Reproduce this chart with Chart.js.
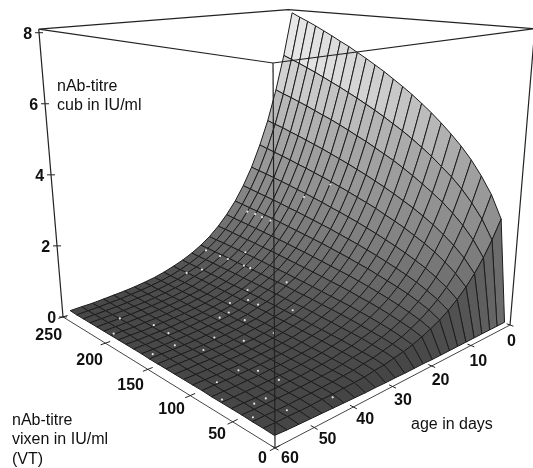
<!DOCTYPE html>
<html>
<head>
<meta charset="utf-8">
<title>nAb-titre surface</title>
<script src="https://cdn.jsdelivr.net/npm/chart.js@4/dist/chart.umd.min.js"></script>
<style>
  html, body { margin: 0; padding: 0; background: #fff; }
  canvas { display: block; }
</style>
</head>
<body>
<canvas id="chart" width="533" height="468"></canvas>
<script>
'use strict';

// grid lines of the surface
var vtLines = [5, 15, 25, 35, 45, 55, 65, 75, 85, 95, 105, 115, 125, 135, 145, 155, 165, 175, 185, 195, 205, 215, 225, 235, 245];
var ageLines = [0, 2.5, 4.9, 7.4, 9.8, 12.3, 14.8, 17.2, 19.7, 22.1, 24.6, 27, 29.5, 32, 34.4, 36.9, 39.3, 41.8, 44.3, 46.7, 49.2, 51.6, 54.1, 56.5, 59];

// cub titre, one row per age line, one column per vt line
var titre = [
  [0.02, 2.78, 3.38, 3.83, 4.22, 4.55, 4.84, 5.11, 5.36, 5.59, 5.81, 6.01, 6.20, 6.39, 6.56, 6.73, 6.89, 7.05, 7.19, 7.34, 7.48, 7.62, 7.75, 7.87, 8.00],
  [0.02, 2.28, 2.77, 3.14, 3.46, 3.73, 3.96, 4.19, 4.39, 4.58, 4.76, 4.92, 5.08, 5.23, 5.37, 5.51, 5.64, 5.77, 5.89, 6.01, 6.13, 6.24, 6.35, 6.45, 6.55],
  [0.02, 1.88, 2.28, 2.59, 2.85, 3.08, 3.27, 3.45, 3.62, 3.78, 3.93, 4.06, 4.19, 4.32, 4.43, 4.55, 4.66, 4.77, 4.86, 4.96, 5.06, 5.15, 5.24, 5.32, 5.41],
  [0.02, 1.54, 1.87, 2.12, 2.33, 2.52, 2.68, 2.83, 2.96, 3.09, 3.21, 3.32, 3.43, 3.53, 3.63, 3.72, 3.81, 3.90, 3.98, 4.06, 4.14, 4.21, 4.29, 4.35, 4.42],
  [0.02, 1.27, 1.54, 1.75, 1.93, 2.08, 2.21, 2.34, 2.45, 2.55, 2.66, 2.75, 2.83, 2.92, 3.00, 3.08, 3.15, 3.22, 3.29, 3.35, 3.42, 3.48, 3.54, 3.60, 3.66],
  [0.02, 1.04, 1.26, 1.43, 1.58, 1.70, 1.81, 1.91, 2.00, 2.09, 2.17, 2.25, 2.32, 2.39, 2.45, 2.52, 2.58, 2.64, 2.69, 2.75, 2.80, 2.85, 2.90, 2.94, 2.99],
  [0.02, 0.85, 1.03, 1.17, 1.29, 1.39, 1.48, 1.56, 1.64, 1.71, 1.78, 1.84, 1.90, 1.96, 2.01, 2.06, 2.11, 2.16, 2.20, 2.25, 2.29, 2.33, 2.37, 2.41, 2.45],
  [0.02, 0.70, 0.86, 0.97, 1.07, 1.15, 1.22, 1.29, 1.36, 1.41, 1.47, 1.52, 1.57, 1.62, 1.66, 1.70, 1.74, 1.78, 1.82, 1.86, 1.89, 1.93, 1.96, 1.99, 2.02],
  [0.02, 0.58, 0.70, 0.79, 0.87, 0.94, 1.00, 1.06, 1.11, 1.16, 1.20, 1.24, 1.28, 1.32, 1.36, 1.39, 1.43, 1.46, 1.49, 1.52, 1.55, 1.58, 1.60, 1.63, 1.66],
  [0.02, 0.48, 0.58, 0.65, 0.72, 0.78, 0.83, 0.87, 0.92, 0.96, 0.99, 1.03, 1.06, 1.09, 1.12, 1.15, 1.18, 1.21, 1.23, 1.26, 1.28, 1.30, 1.33, 1.35, 1.37],
  [0.03, 0.39, 0.47, 0.54, 0.59, 0.64, 0.68, 0.72, 0.75, 0.78, 0.81, 0.84, 0.87, 0.89, 0.92, 0.94, 0.96, 0.99, 1.01, 1.03, 1.05, 1.07, 1.09, 1.10, 1.12],
  [0.03, 0.33, 0.40, 0.45, 0.49, 0.53, 0.57, 0.60, 0.63, 0.65, 0.68, 0.70, 0.72, 0.75, 0.76, 0.78, 0.80, 0.82, 0.84, 0.85, 0.87, 0.89, 0.90, 0.92, 0.93],
  [0.03, 0.28, 0.34, 0.38, 0.42, 0.45, 0.47, 0.50, 0.52, 0.55, 0.57, 0.58, 0.60, 0.62, 0.64, 0.65, 0.67, 0.68, 0.70, 0.71, 0.72, 0.74, 0.75, 0.76, 0.77],
  [0.04, 0.23, 0.28, 0.31, 0.34, 0.37, 0.39, 0.41, 0.43, 0.45, 0.47, 0.48, 0.50, 0.51, 0.53, 0.54, 0.55, 0.56, 0.57, 0.59, 0.60, 0.61, 0.62, 0.63, 0.64],
  [0.04, 0.21, 0.25, 0.28, 0.30, 0.32, 0.34, 0.36, 0.37, 0.39, 0.40, 0.41, 0.43, 0.44, 0.45, 0.46, 0.47, 0.48, 0.49, 0.50, 0.51, 0.52, 0.53, 0.53, 0.54],
  [0.05, 0.17, 0.21, 0.23, 0.25, 0.27, 0.28, 0.30, 0.31, 0.32, 0.33, 0.34, 0.35, 0.36, 0.37, 0.38, 0.39, 0.40, 0.40, 0.41, 0.42, 0.43, 0.43, 0.44, 0.45],
  [0.05, 0.16, 0.19, 0.20, 0.22, 0.24, 0.25, 0.26, 0.27, 0.28, 0.29, 0.30, 0.31, 0.31, 0.32, 0.33, 0.34, 0.34, 0.35, 0.36, 0.36, 0.37, 0.37, 0.38, 0.38],
  [0.06, 0.15, 0.17, 0.18, 0.20, 0.21, 0.22, 0.23, 0.24, 0.25, 0.25, 0.26, 0.27, 0.27, 0.28, 0.29, 0.29, 0.30, 0.30, 0.31, 0.31, 0.32, 0.32, 0.33, 0.33],
  [0.07, 0.14, 0.16, 0.17, 0.18, 0.19, 0.20, 0.21, 0.22, 0.22, 0.23, 0.23, 0.24, 0.25, 0.25, 0.26, 0.26, 0.26, 0.27, 0.27, 0.28, 0.28, 0.28, 0.29, 0.29],
  [0.08, 0.14, 0.15, 0.16, 0.17, 0.18, 0.19, 0.19, 0.20, 0.20, 0.21, 0.21, 0.22, 0.22, 0.23, 0.23, 0.24, 0.24, 0.24, 0.25, 0.25, 0.25, 0.26, 0.26, 0.26],
  [0.09, 0.13, 0.15, 0.15, 0.16, 0.17, 0.17, 0.18, 0.18, 0.19, 0.19, 0.20, 0.20, 0.20, 0.21, 0.21, 0.21, 0.22, 0.22, 0.22, 0.23, 0.23, 0.23, 0.23, 0.24],
  [0.10, 0.13, 0.14, 0.15, 0.16, 0.16, 0.17, 0.17, 0.18, 0.18, 0.18, 0.19, 0.19, 0.19, 0.20, 0.20, 0.20, 0.20, 0.21, 0.21, 0.21, 0.21, 0.21, 0.22, 0.22],
  [0.11, 0.14, 0.14, 0.15, 0.15, 0.16, 0.16, 0.17, 0.17, 0.17, 0.18, 0.18, 0.18, 0.18, 0.19, 0.19, 0.19, 0.19, 0.19, 0.20, 0.20, 0.20, 0.20, 0.20, 0.20],
  [0.12, 0.14, 0.15, 0.15, 0.16, 0.16, 0.16, 0.17, 0.17, 0.17, 0.17, 0.18, 0.18, 0.18, 0.18, 0.18, 0.18, 0.19, 0.19, 0.19, 0.19, 0.19, 0.19, 0.19, 0.20],
  [0.14, 0.15, 0.15, 0.16, 0.16, 0.16, 0.16, 0.17, 0.17, 0.17, 0.17, 0.17, 0.17, 0.17, 0.18, 0.18, 0.18, 0.18, 0.18, 0.18, 0.18, 0.18, 0.18, 0.18, 0.19]
];

// the measured animals, the white specks on the surface
var sampleVt = [222, 212, 208, 196, 155, 178, 227, 214, 204, 194, 183, 175, 212, 221, 158, 148, 156, 136, 148, 148, 129, 205, 177, 188, 158, 129, 110, 100, 141, 121, 143, 82, 71, 80, 61, 42, 43, 32, 143, 110, 50, 10, 23];
var sampleAge = [18.5, 18.4, 17.3, 17.5, 10, 12, 29, 27.8, 27.7, 25, 27.7, 27.7, 33, 35.3, 32, 34, 36.9, 34, 38.8, 41, 38.8, 54, 51, 58, 51, 46, 43, 38, 52.6, 50, 57, 50, 48, 55, 57.7, 52.6, 54.8, 57.4, 25, 31, 48, 45.6, 52.4];
var sampleTitre = [1.9, 1.9, 1.8, 1.8, 3, 2.5, 1, 0.9, 0.9, 1.1, 0.9, 0.9, 0.7, 0.6, 0.6, 0.5, 0.45, 0.5, 0.35, 0.3, 0.35, 0.2, 0.2, 0.15, 0.2, 0.2, 0.2, 0.3, 0.15, 0.15, 0.1, 0.12, 0.15, 0.1, 0.08, 0.1, 0.08, 0.06, 0.7, 0.5, 0.2, 0.2, 0.08];

// axes
var titreTicks = [0, 2, 4, 6, 8];
var vtTicks = [0, 50, 100, 150, 200, 250];
var ageTicks = [0, 10, 20, 30, 40, 50, 60];
var titreTop = 8.1;

// grey of a cell against its height
var shadeTitre = [0, 0.5, 1, 2, 3, 4, 5, 6, 7, 8];
var shadeGrey = [66, 82, 100, 128, 148, 165, 188, 210, 228, 240];

// box perspective, worked out from the eight corners in the picture
function project(vt, age, z) {
  var u = vt / 250;
  var v = 1 - age / 60;
  var t = z / titreTop;
  var w = 1.108 * t / (1 + 0.108 * t);
  var d = 1 + 0.3533 * u + 0.3146 * v - 0.13194 * w;
  return {
    x: (275 - 189.7 * u + 395.5 * v - 38 * w) / d,
    y: (448 - 19.08 * u - 20.76 * v - 393.3 * w) / d
  };
}

// the ticks on the floor edges sit evenly on the page, not foreshortened like the mesh
function vtTickPlace(vt) {
  var t = vt / 250;
  return 250 * 0.739 * t / (1 - 0.261 * t);
}
function ageTickPlace(age) {
  var t = 1 - age / 60;
  return 60 * (1 - 0.761 * t / (1 - 0.239 * t));
}

function cellGrey(z) {
  for (var i = 1; i < shadeTitre.length; i++) {
    if (z <= shadeTitre[i]) {
      var f = (z - shadeTitre[i - 1]) / (shadeTitre[i] - shadeTitre[i - 1]);
      var g = Math.round(shadeGrey[i - 1] + f * (shadeGrey[i] - shadeGrey[i - 1]));
      return 'rgb(' + g + ',' + g + ',' + g + ')';
    }
  }
  return 'rgb(240,240,240)';
}

var datasets = [];

function addLine(points, colour, width, order) {
  datasets.push({
    data: points,
    showLine: true,
    fill: false,
    borderColor: colour,
    borderWidth: width,
    pointRadius: 0,
    tension: 0,
    clip: false,
    order: order
  });
}

// surface cells, far corner first
var drawOrder = 100000;
for (var c = vtLines.length - 2; c >= 0; c--) {
  for (var r = 0; r < ageLines.length - 1; r++) {
    var a = project(vtLines[c], ageLines[r], titre[r][c]);
    var b = project(vtLines[c + 1], ageLines[r], titre[r][c + 1]);
    var e = project(vtLines[c + 1], ageLines[r + 1], titre[r + 1][c + 1]);
    var f = project(vtLines[c], ageLines[r + 1], titre[r + 1][c]);
    var mean = (titre[r][c] + titre[r][c + 1] + titre[r + 1][c + 1] + titre[r + 1][c]) / 4;
    datasets.push({
      data: [a, b, e, f, a],
      showLine: true,
      fill: 'shape',
      backgroundColor: cellGrey(mean),
      borderColor: '#1c1c1c',
      borderWidth: 1,
      pointRadius: 0,
      tension: 0,
      clip: false,
      order: drawOrder
    });
    drawOrder--;
  }
}

// specks
var specks = [];
for (var s = 0; s < sampleVt.length; s++) {
  specks.push(project(sampleVt[s], sampleAge[s], sampleTitre[s]));
}
datasets.push({
  data: specks,
  showLine: false,
  pointRadius: 1.1,
  pointBorderWidth: 0,
  pointBackgroundColor: '#e6e6e6',
  clip: false,
  order: 50
});

// box
var boxColour = '#222222';
var L0 = project(250, 60, 0), F0 = project(0, 60, 0), R0 = project(0, 0, 0);
var L1 = project(250, 60, titreTop), F1 = project(0, 60, titreTop), R1 = project(0, 0, titreTop), B1 = project(250, 0, titreTop);
addLine([L0, L1], boxColour, 1.2, 10);
addLine([R0, R1], boxColour, 1.2, 10);
addLine([F0, F1], boxColour, 1.2, 10);
addLine([L1, F1, R1, B1, L1], boxColour, 1.2, 10);
addLine([L0, F0, R0], '#444444', 1, 10);

// tick marks
titreTicks.forEach(function(z) {
  var p = project(250, 60, z);
  addLine([{x: p.x - 4, y: p.y}, {x: p.x + 4, y: p.y}], boxColour, 1, 9);
});
vtTicks.forEach(function(vt) {
  var place = vtTickPlace(vt);
  addLine([project(place, 61, 0), project(place, 59, 0)], boxColour, 1, 9);
});
ageTicks.forEach(function(age) {
  var place = ageTickPlace(age);
  addLine([project(-3, place, 0), project(3, place, 0)], boxColour, 1, 9);
});

var labelPlugin = {
  id: 'axisText',
  afterDraw: function(chart) {
    var ctx = chart.ctx;
    var sx = chart.scales.x, sy = chart.scales.y;
    function put(text, x, y, align) {
      ctx.textAlign = align;
      ctx.fillText(text, sx.getPixelForValue(x), sy.getPixelForValue(y));
    }
    ctx.save();
    ctx.fillStyle = '#111';
    ctx.textBaseline = 'middle';
    ctx.font = 'bold 16px "Liberation Sans"';
    titreTicks.forEach(function(z) {
      var p = project(250, 60, z);
      put(String(z), p.x - 7, p.y + 2, 'right');
    });
    vtTicks.forEach(function(vt) {
      var p = project(vtTickPlace(vt), 60, 0);
      put(String(vt), p.x - 8 + 7 * vt / 250, p.y + 11 + 8 * vt / 250, 'right');
    });
    ageTicks.forEach(function(age) {
      var p = project(0, ageTickPlace(age), 0);
      put(String(age), p.x - 3 + 9 * age / 60, p.y + 17 - 6 * age / 60, 'left');
    });
    ctx.font = '16px "Liberation Sans"';
    put('nAb-titre', 57, 87, 'left');
    put('cub in IU/ml', 57, 106, 'left');
    put('nAb-titre', 12, 421, 'left');
    put('vixen in IU/ml', 12, 440, 'left');
    put('(VT)', 12, 460, 'left');
    put('age in days', 411, 425, 'left');
    ctx.restore();
  }
};

new Chart(document.getElementById('chart'), {
  type: 'scatter',
  data: {datasets: datasets},
  options: {
    responsive: false,
    animation: false,
    layout: {padding: 0, autoPadding: false},
    plugins: {legend: {display: false}, tooltip: {enabled: false}},
    scales: {
      x: {type: 'linear', min: 0, max: 533, display: false},
      y: {type: 'linear', min: 0, max: 468, reverse: true, display: false}
    }
  },
  plugins: [labelPlugin]
});
</script>
</body>
</html>
